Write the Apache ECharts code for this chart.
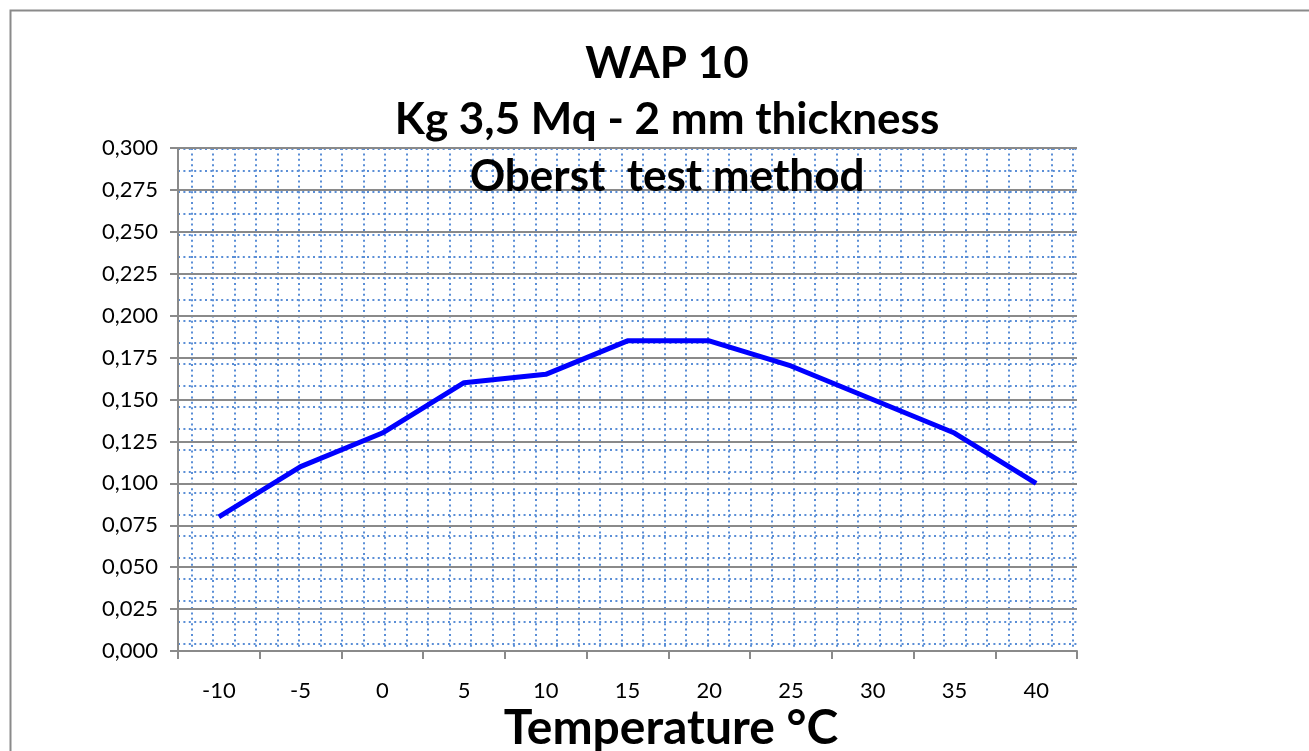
<!DOCTYPE html>
<html>
<head>
<meta charset="utf-8">
<script src="https://cdn.jsdelivr.net/npm/echarts@6/dist/echarts.min.js"></script>
<style>
html,body{margin:0;padding:0;background:#fff;}
#c{width:1309px;height:751px;}
</style>
</head>
<body>
<div id="c"></div>
<script>
const titleLines = ['WAP 10', 'Kg 3,5 Mq - 2 mm thickness', 'Oberst  test method'];
const xAxisName = 'Temperature °C';
const categories = ['-10', '-5', '0', '5', '10', '15', '20', '25', '30', '35', '40'];
const values = [0.080, 0.110, 0.130, 0.160, 0.165, 0.185, 0.185, 0.170, 0.150, 0.130, 0.100];
const yMin = 0, yMax = 0.300, yStep = 0.025;

const FONT = 'Lato';
const dotStyle = {color: '#5a8ed6', width: 2, type: [2, 3.4]};

const chart = echarts.init(document.getElementById('c'), null, {renderer: 'canvas'});
chart.setOption({
  backgroundColor: '#fff',
  animation: false,
  graphic: [{
    type: 'rect', left: 8, top: 8, z: -10,
    shape: {x: 0, y: 0, width: 1400, height: 800},
    style: {fill: 'none', stroke: '#8a8a8a', lineWidth: 2}
  }],
  title: [
    {text: titleLines[0], left: 662, top: 37, textAlign: 'center',
     textStyle: {fontFamily: FONT, fontWeight: 'bold', fontSize: 44, color: '#000'}},
    {text: titleLines[1], left: 662, top: 93, textAlign: 'center',
     textStyle: {fontFamily: FONT, fontWeight: 'bold', fontSize: 44, color: '#000'}},
    {text: titleLines[2], left: 662, top: 150, textAlign: 'center', z: 20,
     textStyle: {fontFamily: FONT, fontWeight: 'bold', fontSize: 44, color: '#000'}},
    {text: xAxisName, left: 666, top: 700, textAlign: 'center',
     textStyle: {fontFamily: FONT, fontWeight: 'bold', fontSize: 48, color: '#000'}}
  ],
  grid: [
    {left: 178, top: 148, width: 899, height: 503},
    {left: 191.7, top: 148, width: 881.5, height: 503},
    {left: 178, top: 149, width: 900, height: 494.5}
  ],
  xAxis: [
    {type: 'category', gridIndex: 0, data: categories, boundaryGap: true,
     axisLine: {show: true, lineStyle: {color: '#8a8a8a', width: 2}},
     axisTick: {show: true, length: 8, lineStyle: {color: '#8a8a8a', width: 2}},
     axisLabel: {margin: 29, fontFamily: FONT, fontSize: 22, color: '#000'},
     splitLine: {show: false}, z: 5},
    {type: 'value', gridIndex: 1, min: 0, max: 41, interval: 1,
     axisLine: {show: false}, axisTick: {show: false}, axisLabel: {show: false},
     splitLine: {show: true, lineStyle: dotStyle}, z: 1},
    {type: 'value', gridIndex: 2, min: 0, max: 1, show: false}
  ],
  yAxis: [
    {type: 'value', gridIndex: 0, min: yMin, max: yMax, interval: yStep,
     axisLine: {show: true, lineStyle: {color: '#8a8a8a', width: 2}},
     axisTick: {show: true, length: 8, lineStyle: {color: '#8a8a8a', width: 2}},
     axisLabel: {margin: 20, fontFamily: FONT, fontSize: 22, color: '#000',
       formatter: v => v.toFixed(3).replace('.', ',')},
     splitLine: {show: true, lineStyle: {color: '#8a8a8a', width: 2}}, z: 5},
    {type: 'value', gridIndex: 1, min: 0, max: 1, show: false},
    {type: 'value', gridIndex: 2, min: 0, max: 23, interval: 1,
     axisLine: {show: false}, axisTick: {show: false}, axisLabel: {show: false},
     splitLine: {show: true, lineStyle: dotStyle}, z: 1}
  ],
  series: [
    {type: 'line', xAxisIndex: 0, yAxisIndex: 0, data: values, symbol: 'none',
     lineStyle: {color: '#0000ff', width: 5}, z: 10},
    {type: 'line', xAxisIndex: 1, yAxisIndex: 1, data: [], silent: true},
    {type: 'line', xAxisIndex: 2, yAxisIndex: 2, data: [], silent: true}
  ]
});
</script>
</body>
</html>
